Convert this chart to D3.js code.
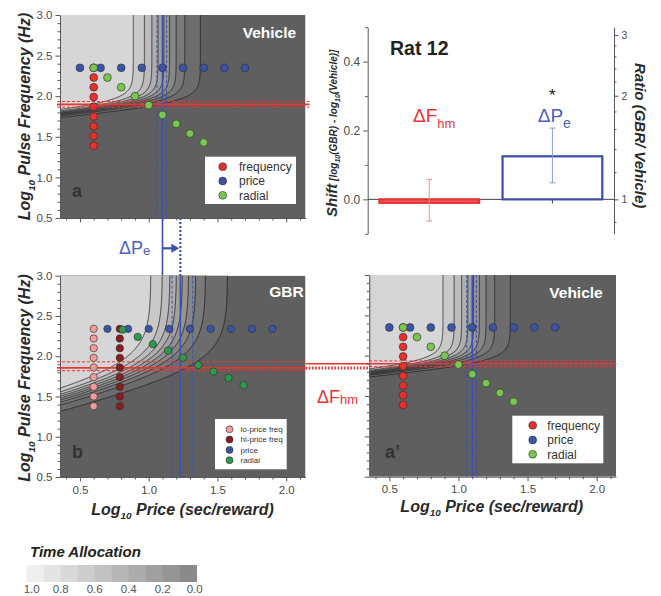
<!DOCTYPE html>
<html><head><meta charset="utf-8">
<script src="https://cdn.jsdelivr.net/npm/d3@7"></script>
<style>body{margin:0;background:#fff} svg{display:block}</style>
</head><body><svg id="c" width="661" height="596"></svg>
<script>
// ---------------- data ----------------
const logPriceTicks = [0.5, 1.0, 1.5, 2.0];
const logFreqTicks = [0.5, 1.0, 1.5, 2.0, 2.5, 3.0];
const contourLevels = [0.1, 0.2, 0.3, 0.4, 0.5, 0.6, 0.7, 0.8, 0.9];

// Vehicle (panels a and a')
const vehFreqSweepPrice = 0.6;
const vehFreqSweepFreq = [2.35, 2.23, 2.11, 1.99, 1.87, 1.75, 1.63, 1.51, 1.39];
const vehPriceSweepFreq = 2.35;
const vehPriceSweepPrice = [0.5, 0.65, 0.8, 0.95, 1.1, 1.25, 1.4, 1.55, 1.7];
const vehRadialPrice = [0.6, 0.7, 0.8, 0.9, 1.0, 1.1, 1.2, 1.3, 1.4];
const vehRadialFreq = [2.35, 2.23, 2.11, 2.0, 1.89, 1.77, 1.66, 1.54, 1.43];
const vehFhm = [1.9, 1.865, 1.935];   // estimate, lower, upper
const vehPe = [1.1, 1.06, 1.13];
const vehSurface = {fhm: 1.9, pe: 1.1, g: 6, a: 4.4, tamin: 0.045};

// GBR (panel b)
const gbrLoFreqPrice = 0.6;
const gbrHiFreqPrice = 0.79;
const gbrFreqSweepFreq = [2.34, 2.22, 2.10, 1.98, 1.86, 1.74, 1.62, 1.50, 1.38];
const gbrPriceSweepFreq = 2.34;
const gbrPriceSweepPrice = [0.7, 0.85, 1.0, 1.15, 1.3, 1.45, 1.6, 1.75, 1.9];
const gbrRadialPrice = [0.81, 0.92, 1.03, 1.14, 1.25, 1.36, 1.47, 1.58, 1.69];
const gbrRadialFreq = [2.33, 2.24, 2.15, 2.07, 1.98, 1.89, 1.81, 1.73, 1.64];
const gbrFhm = [1.855, 1.82, 1.93];
const gbrPe = [1.23, 1.17, 1.32];
const gbrSurface = {fhm: 1.855, pe: 1.23, g: 2.2, a: 4.3, tamin: 0.07};

// Shift bars (Rat 12)
const shiftNames = ["dFhm", "dPe"];
const shiftValues = [-0.01, 0.125];
const shiftLow = [-0.063, 0.048];
const shiftHigh = [0.058, 0.207];
const shiftTicks = [0.0, 0.2, 0.4];
const shiftMinor = [-0.1, 0.1, 0.3, 0.5];
const ratioTicks = [1, 2, 3];
const ratioMinor = [0.86, 1.2, 1.4, 1.6, 1.8, 2.2, 2.4, 2.6, 2.8];

// Time allocation legend
const taSwatches = [1.0, 0.9, 0.8, 0.7, 0.6, 0.5, 0.4, 0.3, 0.2, 0.1];
const taLabels = [1.0, 0.8, 0.6, 0.4, 0.2, 0.0];

// ---------------- drawing ----------------
const FONT = '"Liberation Sans", Arial, Helvetica, sans-serif';
const svg = d3.select("#c").attr("font-family", FONT);
const defs = svg.append("defs");
const xDomain = [0.355, 2.14];
const yDomain = [0.5, 3.0];
const BOX = {
  a:  {x0: 60,    x1: 305.5, y0: 15,    y1: 218},
  b:  {x0: 60,    x1: 305.5, y0: 275.7, y1: 477},
  ap: {x0: 369.3, x1: 616,   y0: 275,   y1: 476.7}
};
const bandColor = d3.range(10).map(k => d3.interpolateRgb("#5f5f5f", "#d6d6d6")(k / 9));
const RED = "#ec3434", BLUE = "#3d52ad";

function timeAlloc(logP, logF, s) {
  const I = 1 / (1 + Math.pow(10, -s.g * (logF - s.fhm)));
  const u = Math.pow(I * Math.pow(10, s.pe - logP), s.a);
  return s.tamin + (1 - s.tamin) * u / (u + 1);
}

function drawPanel(key, box, surf, showX, showY) {
  const xs = d3.scaleLinear().domain(xDomain).range([box.x0, box.x1]);
  const ys = d3.scaleLinear().domain(yDomain).range([box.y1, box.y0]);
  defs.append("clipPath").attr("id", "clip-" + key).append("rect")
    .attr("x", box.x0).attr("y", box.y0).attr("width", box.x1 - box.x0).attr("height", box.y1 - box.y0);
  const inner = svg.append("g").attr("clip-path", `url(#clip-${key})`);
  inner.append("rect").attr("x", box.x0).attr("y", box.y0)
    .attr("width", box.x1 - box.x0).attr("height", box.y1 - box.y0).attr("fill", bandColor[0]);
  const pad = 3;
  const n = Math.ceil(box.x1 - box.x0) + 2 * pad, m = Math.ceil(box.y1 - box.y0) + 2 * pad;
  const ox = box.x0 - pad, oy = box.y0 - pad;
  const vals = new Array(n * m);
  for (let j = 0; j < m; j++) for (let i = 0; i < n; i++)
    vals[j * n + i] = timeAlloc(xs.invert(ox + i + 0.5), ys.invert(oy + j + 0.5), surf);
  const cs = d3.contours().size([n, m]).thresholds(contourLevels)(vals);
  const path = d3.geoPath(d3.geoTransform({point(x, y) { this.stream.point(ox + x, oy + y); }}));
  inner.selectAll(null).data(cs).join("path").attr("d", path).attr("fill", (d, i) => bandColor[i + 1]);
  inner.selectAll(null).data(cs).join("path").attr("d", path).attr("fill", "none")
    .attr("stroke", "#1c1c1c").attr("stroke-width", 0.75);

  // axes
  const xMinor = d3.range(4, 22).map(v => v / 10).filter(v => !logPriceTicks.includes(v));
  const yMinor = d3.range(5, 31).map(v => v / 10).filter(v => !logFreqTicks.includes(v));
  const style = g => {
    g.attr("font-family", FONT).attr("font-size", 11.5);
    g.selectAll("line,path").attr("stroke", "#555");
    g.selectAll("text").attr("fill", "#4a4a4a");
  };
  svg.append("g").attr("transform", `translate(0,${box.y1})`)
    .call(d3.axisBottom(xs).tickValues(xMinor).tickSize(2.5).tickSizeOuter(0).tickFormat(""))
    .call(g => g.select(".domain").remove()).call(style);
  svg.append("g").attr("transform", `translate(0,${box.y1})`)
    .call(d3.axisBottom(xs).tickValues(logPriceTicks).tickSize(4.5).tickSizeOuter(0).tickPadding(4)
      .tickFormat(showX ? d3.format(".1f") : "")).call(style);
  svg.append("g").attr("transform", `translate(${box.x0},0)`)
    .call(d3.axisLeft(ys).tickValues(yMinor).tickSize(2.5).tickSizeOuter(0).tickFormat(""))
    .call(g => g.select(".domain").remove()).call(style);
  svg.append("g").attr("transform", `translate(${box.x0},0)`)
    .call(d3.axisLeft(ys).tickValues(logFreqTicks).tickSize(4.5).tickSizeOuter(0).tickPadding(3)
      .tickFormat(showY ? d3.format(".1f") : "")).call(style);
  return {xs, ys};
}

function vline(x, y0, y1, color, w, dash) {
  svg.append("line").attr("x1", x).attr("x2", x).attr("y1", y0).attr("y2", y1)
    .attr("stroke", color).attr("stroke-width", w).attr("stroke-dasharray", dash || null);
}
function hline(y, x0, x1, color, w, dash) {
  svg.append("line").attr("y1", y).attr("y2", y).attr("x1", x0).attr("x2", x1)
    .attr("stroke", color).attr("stroke-width", w).attr("stroke-dasharray", dash || null);
}
function dots(xs, ys, pts, fill, r) {
  svg.append("g").selectAll("circle").data(pts).join("circle")
    .attr("cx", d => xs(d[0])).attr("cy", d => ys(d[1])).attr("r", r)
    .attr("fill", fill).attr("stroke", "#2a2a2a").attr("stroke-width", 0.6);
}
function legend(x, y, w, h, items, cx, tx, rowY, r, fs) {
  const g = svg.append("g");
  g.append("rect").attr("x", x).attr("y", y).attr("width", w).attr("height", h).attr("fill", "#fff");
  items.forEach((it, i) => {
    g.append("circle").attr("cx", cx).attr("cy", rowY[i]).attr("r", r).attr("fill", it[1])
      .attr("stroke", "#2a2a2a").attr("stroke-width", 0.6);
    g.append("text").attr("x", tx).attr("y", rowY[i] + fs * 0.36).attr("font-size", fs)
      .attr("fill", "#333").text(it[0]);
  });
}
function label(x, y, txt, size, color, weight) {
  return svg.append("text").attr("x", x).attr("y", y).attr("font-size", size)
    .attr("font-weight", weight || "bold").attr("fill", color).text(txt);
}
function logTitle(x, y, rot, pre, post, size) {
  const t = svg.append("text").attr("transform", `translate(${x},${y}) rotate(${rot})`)
    .attr("text-anchor", "middle").attr("font-size", size).attr("font-weight", "bold")
    .attr("font-style", "italic").attr("fill", "#2a2a2a");
  t.append("tspan").text(pre);
  t.append("tspan").attr("font-size", size * 0.62).attr("dy", size * 0.3).text("10");
  t.append("tspan").attr("dy", -size * 0.3).text("\u00A0" + post);
}

const vehFreqPts = vehFreqSweepFreq.map(f => [vehFreqSweepPrice, f]);
const vehPricePts = vehPriceSweepPrice.map(p => [p, vehPriceSweepFreq]);
const vehRadialPts = vehRadialPrice.map((p, i) => [p, vehRadialFreq[i]]);

// ---- panel a (Vehicle) ----
const A = drawPanel("a", BOX.a, vehSurface, false, true);
vline(A.xs(vehPe[1]), BOX.a.y0, BOX.a.y1, BLUE, 1, "3,2");
vline(A.xs(vehPe[2]), BOX.a.y0, BOX.a.y1, BLUE, 1, "3,2");
vline(A.xs(vehPe[0]), BOX.a.y0, BOX.b.y0, BLUE, 1.6);
hline(A.ys(vehFhm[1]), BOX.a.x0 - 3, BOX.a.x1 + 4, RED, 1, "3,2");
hline(A.ys(vehFhm[2]), BOX.a.x0 - 3, BOX.a.x1 + 4, RED, 1, "3,2");
hline(A.ys(vehFhm[0]), BOX.a.x0 - 3, BOX.a.x1 + 4, RED, 1.7);
dots(A.xs, A.ys, vehFreqPts, "#ea2f2c", 3.9);
dots(A.xs, A.ys, vehPricePts, "#3b54a8", 3.9);
dots(A.xs, A.ys, vehRadialPts, "#79c651", 3.9);
legend(205, 156.7, 91, 47.3, [["frequency", "#ea2f2c"], ["price", "#3b54a8"], ["radial", "#79c651"]],
  222.7, 239, [166.7, 181, 195.3], 3.9, 12);
label(242.7, 38.3, "Vehicle", 15.5, "#fff");
label(72, 197, "a", 18, "#333");

// ---- panel b (GBR) ----
const B = drawPanel("b", BOX.b, gbrSurface, true, true);
vline(B.xs(gbrPe[1]), BOX.b.y0, BOX.b.y1, BLUE, 1, "3,2");
vline(B.xs(gbrPe[2]), BOX.b.y0, BOX.b.y1, BLUE, 1, "3,2");
vline(B.xs(gbrPe[0]), BOX.b.y0, BOX.b.y1, BLUE, 1.6);
vline(B.xs(gbrPe[0]), BOX.a.y1, BOX.b.y0, BLUE, 2.2, "2,2");
hline(B.ys(gbrFhm[1]), BOX.b.x0 - 3, BOX.b.x1, RED, 1, "3,2");
hline(B.ys(gbrFhm[2]), BOX.b.x0 - 3, BOX.b.x1, RED, 1, "3,2");
hline(B.ys(gbrFhm[0]), BOX.b.x0 - 3, BOX.b.x1, RED, 1.7);
hline(B.ys(gbrFhm[0]), BOX.b.x1, BOX.ap.x0, RED, 3, "1.6,1.6");
dots(B.xs, B.ys, gbrFreqSweepFreq.map(f => [gbrLoFreqPrice, f]), "#f39a98", 3.7);
dots(B.xs, B.ys, gbrFreqSweepFreq.map(f => [gbrHiFreqPrice, f]), "#8a1d1f", 3.7);
dots(B.xs, B.ys, gbrPriceSweepPrice.map(p => [p, gbrPriceSweepFreq]), "#3b54a8", 3.7);
dots(B.xs, B.ys, gbrRadialPrice.map((p, i) => [p, gbrRadialFreq[i]]), "#2e9a4c", 3.7);
legend(215, 419, 71.7, 50.3, [["lo-price freq", "#f39a98"], ["hi-price freq", "#8a1d1f"], ["price", "#3b54a8"], ["radial", "#2e9a4c"]],
  229.5, 240.5, [429.3, 439.6, 449.9, 460.2], 3.5, 8);
label(269.3, 297.3, "GBR", 15.5, "#fff");
label(72, 458, "b", 18, "#333");

// ---- panel a' (Vehicle repeated) ----
const AP = drawPanel("ap", BOX.ap, vehSurface, true, false);
vline(AP.xs(vehPe[1]), BOX.ap.y0, BOX.ap.y1, BLUE, 1, "3,2");
vline(AP.xs(vehPe[2]), BOX.ap.y0, BOX.ap.y1, BLUE, 1, "3,2");
vline(AP.xs(vehPe[0]), BOX.ap.y0, BOX.ap.y1, BLUE, 1.6);
hline(AP.ys(vehFhm[1]), BOX.ap.x0, BOX.ap.x1, RED, 1, "3,2");
hline(AP.ys(vehFhm[2]), BOX.ap.x0, BOX.ap.x1, RED, 1, "3,2");
hline(AP.ys(vehFhm[0]), BOX.b.x1, BOX.ap.x1, RED, 1.7);
dots(AP.xs, AP.ys, vehFreqPts, "#ea2f2c", 3.9);
dots(AP.xs, AP.ys, vehPricePts, "#3b54a8", 3.9);
dots(AP.xs, AP.ys, vehRadialPts, "#79c651", 3.9);
legend(512.3, 415.7, 91, 47.6, [["frequency", "#ea2f2c"], ["price", "#3b54a8"], ["radial", "#79c651"]],
  532.7, 547.3, [425.3, 440, 454.3], 3.9, 12);
label(549.3, 298.3, "Vehicle", 15.5, "#fff");
label(385, 458.3, "a\u2019", 18, "#333");

// ---- axis titles ----
logTitle(30, 116.5, -90, "Log", "Pulse Frequency (Hz)", 16);
logTitle(30, 378, -90, "Log", "Pulse Frequency (Hz)", 16);
logTitle(182.5, 514.5, 0, "Log", "Price (sec/reward)", 16);
logTitle(491.7, 511.5, 0, "Log", "Price (sec/reward)", 16);

// ---- ΔPe arrow between a and b ----
{
  const xv = A.xs(vehPe[0]), xg = B.xs(gbrPe[0]), ya = 248.3;
  svg.append("line").attr("x1", xv).attr("x2", xg - 7).attr("y1", ya).attr("y2", ya)
    .attr("stroke", BLUE).attr("stroke-width", 2.2);
  svg.append("path").attr("d", `M${xg - 1},${ya} L${xg - 9},${ya - 4.5} L${xg - 9},${ya + 4.5} Z`).attr("fill", BLUE);
  const t = svg.append("text").attr("x", 119).attr("y", 253.5).attr("font-size", 18).attr("fill", "#4a5fc0");
  t.append("tspan").text("\u0394P");
  t.append("tspan").attr("font-size", 13).attr("dy", 1.5).text("e");
}
// ---- ΔFhm label between b and a' ----
{
  const t = svg.append("text").attr("x", 317).attr("y", 403.3).attr("font-size", 18).attr("fill", RED);
  t.append("tspan").text("\u0394F");
  t.append("tspan").attr("font-size", 13).attr("dy", 1).text("hm");
}

// ---------------- shift bar chart ----------------
{
  const bx = d3.scaleBand().domain(shiftNames).range([367.7, 614]).paddingInner(0.19).paddingOuter(0.095);
  const by = d3.scaleLinear().domain([-0.1, 0.5]).range([233.8, 27.2]);
  const byR = d3.scaleLog().domain([Math.pow(10, -0.1), Math.pow(10, 0.5)]).range([233.8, 27.2]);
  const style = (fs) => g => {
    g.attr("font-family", FONT).attr("font-size", fs);
    g.selectAll("line,path").attr("stroke", "#555");
    g.selectAll("text").attr("fill", "#4a4a4a");
  };
  svg.append("g").attr("transform", "translate(367.7,0)")
    .call(d3.axisLeft(by).tickValues(shiftMinor).tickSize(2.5).tickSizeOuter(0).tickFormat(""))
    .call(g => g.select(".domain").remove()).call(style(12));
  svg.append("g").attr("transform", "translate(367.7,0)")
    .call(d3.axisLeft(by).tickValues(shiftTicks).tickSize(4.5).tickSizeOuter(0).tickPadding(3).tickFormat(d3.format(".1f")))
    .call(style(12));
  svg.append("g").attr("transform", "translate(614,0)")
    .call(d3.axisRight(byR).tickValues(ratioMinor).tickSize(2.5).tickSizeOuter(0).tickFormat(""))
    .call(g => g.select(".domain").remove()).call(style(10.5));
  svg.append("g").attr("transform", "translate(614,0)")
    .call(d3.axisRight(byR).tickValues(ratioTicks).tickSize(4.5).tickSizeOuter(0).tickPadding(3).tickFormat(d3.format("d")))
    .call(style(10.5));
  // zero line + category ticks
  hline(by(0), 367.7, 614, "#444", 1);
  shiftNames.forEach(n => vline(bx(n) + bx.bandwidth() / 2, by(0), by(0) + 4, "#444", 1));
  // bars
  const fills = ["#f26464", "#ffffff"], strokes = ["#e8302e", "#3a4fa8"];
  svg.append("g").selectAll("rect").data(shiftValues).join("rect")
    .attr("x", (d, i) => bx(shiftNames[i])).attr("width", bx.bandwidth())
    .attr("y", d => by(Math.max(0, d))).attr("height", d => Math.abs(by(d) - by(0)))
    .attr("fill", (d, i) => fills[i]).attr("stroke", (d, i) => strokes[i]).attr("stroke-width", 2.2);
  // error bars
  const ecol = ["#f29090", "#8f9bd6"];
  shiftNames.forEach((n, i) => {
    const cx = bx(n) + bx.bandwidth() / 2;
    vline(cx, by(shiftLow[i]), by(shiftHigh[i]), ecol[i], 1);
    hline(by(shiftLow[i]), cx - 3, cx + 3, ecol[i], 1);
    hline(by(shiftHigh[i]), cx - 3, cx + 3, ecol[i], 1);
  });
  svg.append("text").attr("x", bx("dPe") + bx.bandwidth() / 2).attr("y", 101).attr("text-anchor", "middle")
    .attr("font-size", 17).attr("fill", "#222").text("*");
  label(390, 55, "Rat 12", 19.5, "#222");
  const t1 = svg.append("text").attr("x", 413).attr("y", 121.7).attr("font-size", 19).attr("fill", RED);
  t1.append("tspan").text("\u0394F");
  t1.append("tspan").attr("font-size", 13).attr("dy", 6).text("hm");
  const t2 = svg.append("text").attr("x", 537.7).attr("y", 121.7).attr("font-size", 19).attr("fill", "#4a5fc0");
  t2.append("tspan").text("\u0394P");
  t2.append("tspan").attr("font-size", 14).attr("dy", 6).text("e");
  // left title
  const lt = svg.append("text").attr("transform", "translate(337,217) rotate(-90)")
    .attr("font-weight", "bold").attr("font-style", "italic").attr("fill", "#2a2a2a").attr("font-size", 15);
  lt.append("tspan").text("Shift");
  lt.append("tspan").attr("font-size", 10).text("\u00A0[log");
  lt.append("tspan").attr("font-size", 7).attr("dy", 2.5).text("10");
  lt.append("tspan").attr("font-size", 10).attr("dy", -2.5).text("(GBR) - log");
  lt.append("tspan").attr("font-size", 7).attr("dy", 2.5).text("10");
  lt.append("tspan").attr("font-size", 10).attr("dy", -2.5).text("(Vehicle)]");
  svg.append("text").attr("transform", "translate(635,63) rotate(90)")
    .attr("font-weight", "bold").attr("font-style", "italic").attr("fill", "#2a2a2a").attr("font-size", 15)
    .text("Ratio (GBR/ Vehicle)");
}

// ---------------- time allocation legend ----------------
{
  const lx = d3.scaleLinear().domain([1, 0]).range([26.7, 196.7]);
  const sw = (lx(0) - lx(1)) / taSwatches.length;
  const col = d3.scaleLinear().domain([1.0, 0.1]).range(["#efefef", "#8a8a8a"]);
  svg.append("g").selectAll("rect").data(taSwatches).join("rect")
    .attr("x", d => lx(d)).attr("y", 565).attr("width", sw + 0.3).attr("height", 17)
    .attr("fill", d => col(d));
  svg.append("g").selectAll("text").data(taLabels).join("text")
    .attr("x", d => lx(d) + (d === 1 ? 5 : 0) - (d === 0 ? 2 : 0)).attr("y", 592.5).attr("text-anchor", "middle")
    .attr("font-size", 11.5).attr("fill", "#555").text(d => d.toFixed(1));
  svg.append("text").attr("x", 30).attr("y", 556.5).attr("font-size", 15).attr("font-weight", "bold")
    .attr("font-style", "italic").attr("fill", "#222").text("Time Allocation");
}
</script></body></html>
